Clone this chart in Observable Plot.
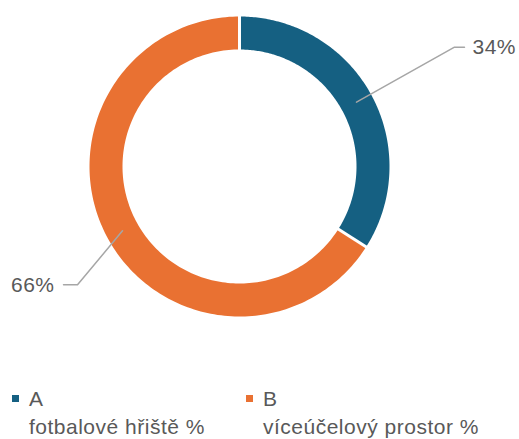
<!DOCTYPE html>
<html><head><meta charset="utf-8">
<script src="https://cdn.jsdelivr.net/npm/d3@7"></script>
<script src="https://cdn.jsdelivr.net/npm/@observablehq/plot@0.6"></script>
<style>
body{margin:0;background:#fff;font-family:"Liberation Sans",Arial,sans-serif;color:#595959;}
#wrap{position:relative;width:519px;height:439px;overflow:hidden;}
#chart{position:absolute;left:0;top:0;}
#chart text{letter-spacing:0.5px;}
.sw{position:absolute;width:7px;height:7px;}
.lt{position:absolute;font-size:21px;line-height:21px;letter-spacing:0.5px;white-space:nowrap;color:#595959;}
</style></head><body>
<div id="wrap"><div id="chart"></div><div id="legend"></div></div>
<script>
const categories = ["A", "B"];
const seriesNames = ["fotbalové hřiště %", "víceúčelový prostor %"];
const values = [34, 66];
const valueLabels = ["34%", "66%"];
const colors = ["#156082", "#E97132"];

// layout
const W = 519, H = 380;
const cx = 239, cy = 166, rOuter = 150, rInner = 117;
const rMid = (rOuter + rInner) / 2;
const leader = [ {dx: 98, dy: -55, tick: 10}, {dx: -45, dy: 54, tick: -14} ];

const arcs = d3.pie().sort(null).value(d => d)(values);
const px = (r, a) => cx + r * Math.sin(a);
const py = (r, a) => cy - r * Math.cos(a);

const ring = [];
arcs.forEach((a, i) => {
  const n = 180;
  for (let k = 0; k <= n; k++) {
    const t = a.startAngle + (a.endAngle - a.startAngle) * k / n;
    ring.push({cat: categories[i], x: px(rOuter, t), y: py(rOuter, t)});
  }
  for (let k = n; k >= 0; k--) {
    const t = a.startAngle + (a.endAngle - a.startAngle) * k / n;
    ring.push({cat: categories[i], x: px(rInner, t), y: py(rInner, t)});
  }
});

const seps = arcs.map(a => ({
  x1: px(rInner - 3, a.startAngle), y1: py(rInner - 3, a.startAngle),
  x2: px(rOuter + 3, a.startAngle), y2: py(rOuter + 3, a.startAngle)
}));

const leaderPts = [];
const labelPts = [];
arcs.forEach((a, i) => {
  const m = (a.startAngle + a.endAngle) / 2;
  const sx = px(rMid, m), sy = py(rMid, m);
  const ex = sx + leader[i].dx, ey = sy + leader[i].dy;
  const tx = ex + leader[i].tick;
  leaderPts.push({k: i, x: sx, y: sy}, {k: i, x: ex, y: ey}, {k: i, x: tx, y: ey});
  labelPts.push({x: tx, y: ey, text: valueLabels[i], side: leader[i].tick > 0 ? "start" : "end"});
});

const plot = Plot.plot({
  width: W, height: H,
  margin: 0,
  x: {domain: [0, W], range: [0, W], axis: null},
  y: {domain: [0, H], range: [0, H], axis: null},
  color: {domain: categories, range: colors},
  style: {background: "#fff", fontFamily: "'Liberation Sans', Arial, sans-serif"},
  marks: [
    Plot.line(ring, {x: "x", y: "y", z: "cat", fill: "cat", stroke: "none", curve: "linear"}),
    Plot.link(seps, {x1: "x1", y1: "y1", x2: "x2", y2: "y2", stroke: "#ffffff", strokeWidth: 3}),
    Plot.line(leaderPts, {x: "x", y: "y", z: "k", stroke: "#a6a6a6", strokeWidth: 1.5}),
    Plot.text(labelPts.filter(d => d.side === "start"), {x: "x", y: "y", text: "text", textAnchor: "start", dx: 8, fontSize: 21, fill: "#595959"}),
    Plot.text(labelPts.filter(d => d.side === "end"), {x: "x", y: "y", text: "text", textAnchor: "end", dx: -9, fontSize: 21, fill: "#595959"})
  ]
});
document.getElementById("chart").appendChild(plot);

const legend = document.getElementById("legend");
const legendX = [12, 246];
categories.forEach((c, i) => {
  const sw = document.createElement("div");
  sw.className = "sw"; sw.style.left = legendX[i] + "px"; sw.style.top = "395px";
  sw.style.background = colors[i];
  legend.appendChild(sw);
  const t1 = document.createElement("div");
  t1.className = "lt"; t1.textContent = c;
  t1.style.left = (legendX[i] + 17) + "px"; t1.style.top = "388px";
  legend.appendChild(t1);
  const t2 = document.createElement("div");
  t2.className = "lt"; t2.textContent = seriesNames[i];
  t2.style.left = (legendX[i] + 17) + "px"; t2.style.top = "416px";
  legend.appendChild(t2);
});
</script>
</body></html>
